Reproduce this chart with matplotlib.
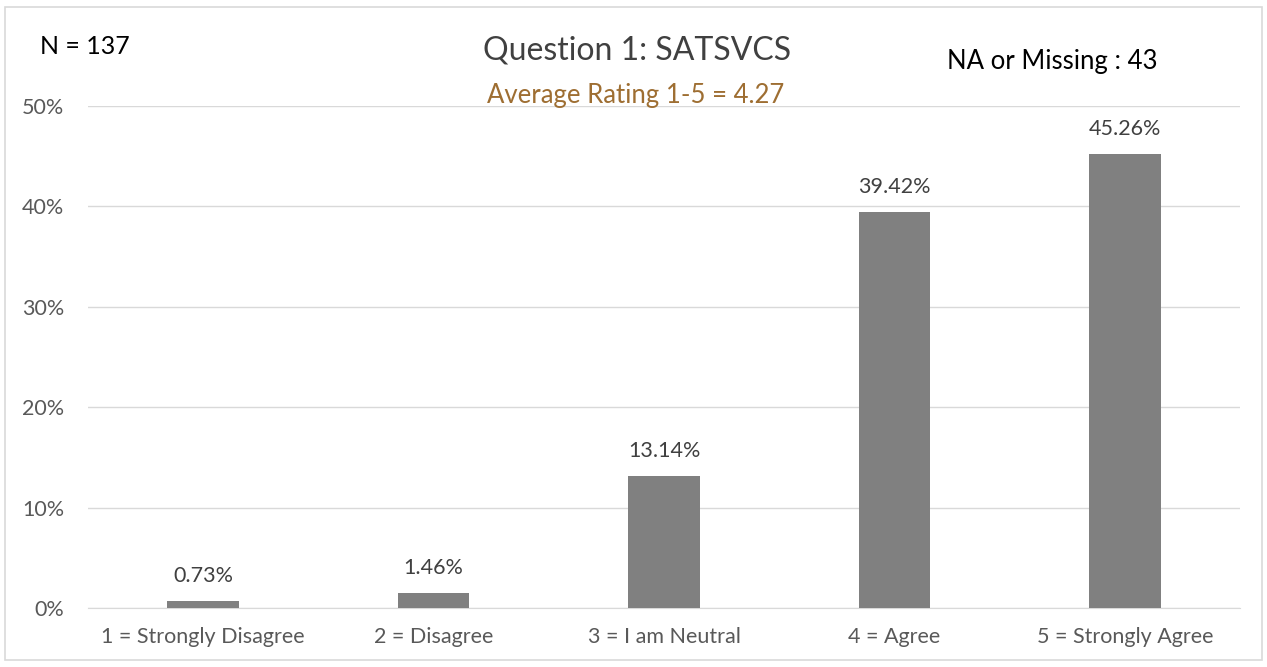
import matplotlib
matplotlib.use("Agg")
import matplotlib.pyplot as plt
from matplotlib.patches import Rectangle
from matplotlib.ticker import FuncFormatter

categories = ["1 = Strongly Disagree", "2 = Disagree", "3 = I am Neutral", "4 = Agree", "5 = Strongly Agree"]
values = [0.73, 1.46, 13.14, 39.42, 45.26]
yticks = [0, 10, 20, 30, 40, 50]
title = "Question 1: SATSVCS"
subtitle = "Average Rating 1-5 = 4.27"
n_text = "N = 137"
na_text = "NA or Missing : 43"

plt.rcParams['font.family'] = ['Lato', 'DejaVu Sans']

fig = plt.figure(figsize=(12.67, 6.67), dpi=100)
fig.patches.append(Rectangle((5/1267, 7/667), 1257/1267, 653/667, transform=fig.transFigure,
                             fill=False, edgecolor='#d9d9d9', linewidth=1.2))
ax = fig.add_axes([88/1267, 59/667, 1152/1267, 502/667])
x = list(range(len(categories)))
ax.bar(x, values, width=0.31, color='#808080', zorder=3)
ax.set_xlim(-0.5, len(categories) - 0.5)
ax.set_ylim(0, 50)
ax.set_yticks(yticks)
ax.yaxis.set_major_formatter(FuncFormatter(lambda v, p: f"{int(v)}%"))
ax.set_xticks(x)
ax.set_xticklabels(categories)
ax.grid(axis='y', color='#d9d9d9', linewidth=1, zorder=0)
for s in ['top', 'right', 'left']:
    ax.spines[s].set_visible(False)
ax.spines['bottom'].set_color('#d9d9d9')
ax.tick_params(axis='both', length=0, labelsize=15.5, colors='#595959')
ax.tick_params(axis='x', pad=14)
ax.tick_params(axis='y', pad=17)
for xi, v in zip(x, values):
    ax.text(xi, v + 1.5, f"{v:.2f}%", ha='center', va='bottom', fontsize=15.5, color='#404040')

fig.text(637/1267, 1 - 50/667, title, ha='center', va='center', fontsize=23, color='#404040')
fig.text(636/1267, 1 - 95/667, subtitle, ha='center', va='center', fontsize=18.5, color='#9E6E32')
fig.text(40/1267, 1 - 47/667, n_text, ha='left', va='center', fontsize=18, color='black')
fig.text(1052/1267, 1 - 61/667, na_text, ha='center', va='center', fontsize=18.5, color='black')

fig.savefig("out.png", dpi=100)
